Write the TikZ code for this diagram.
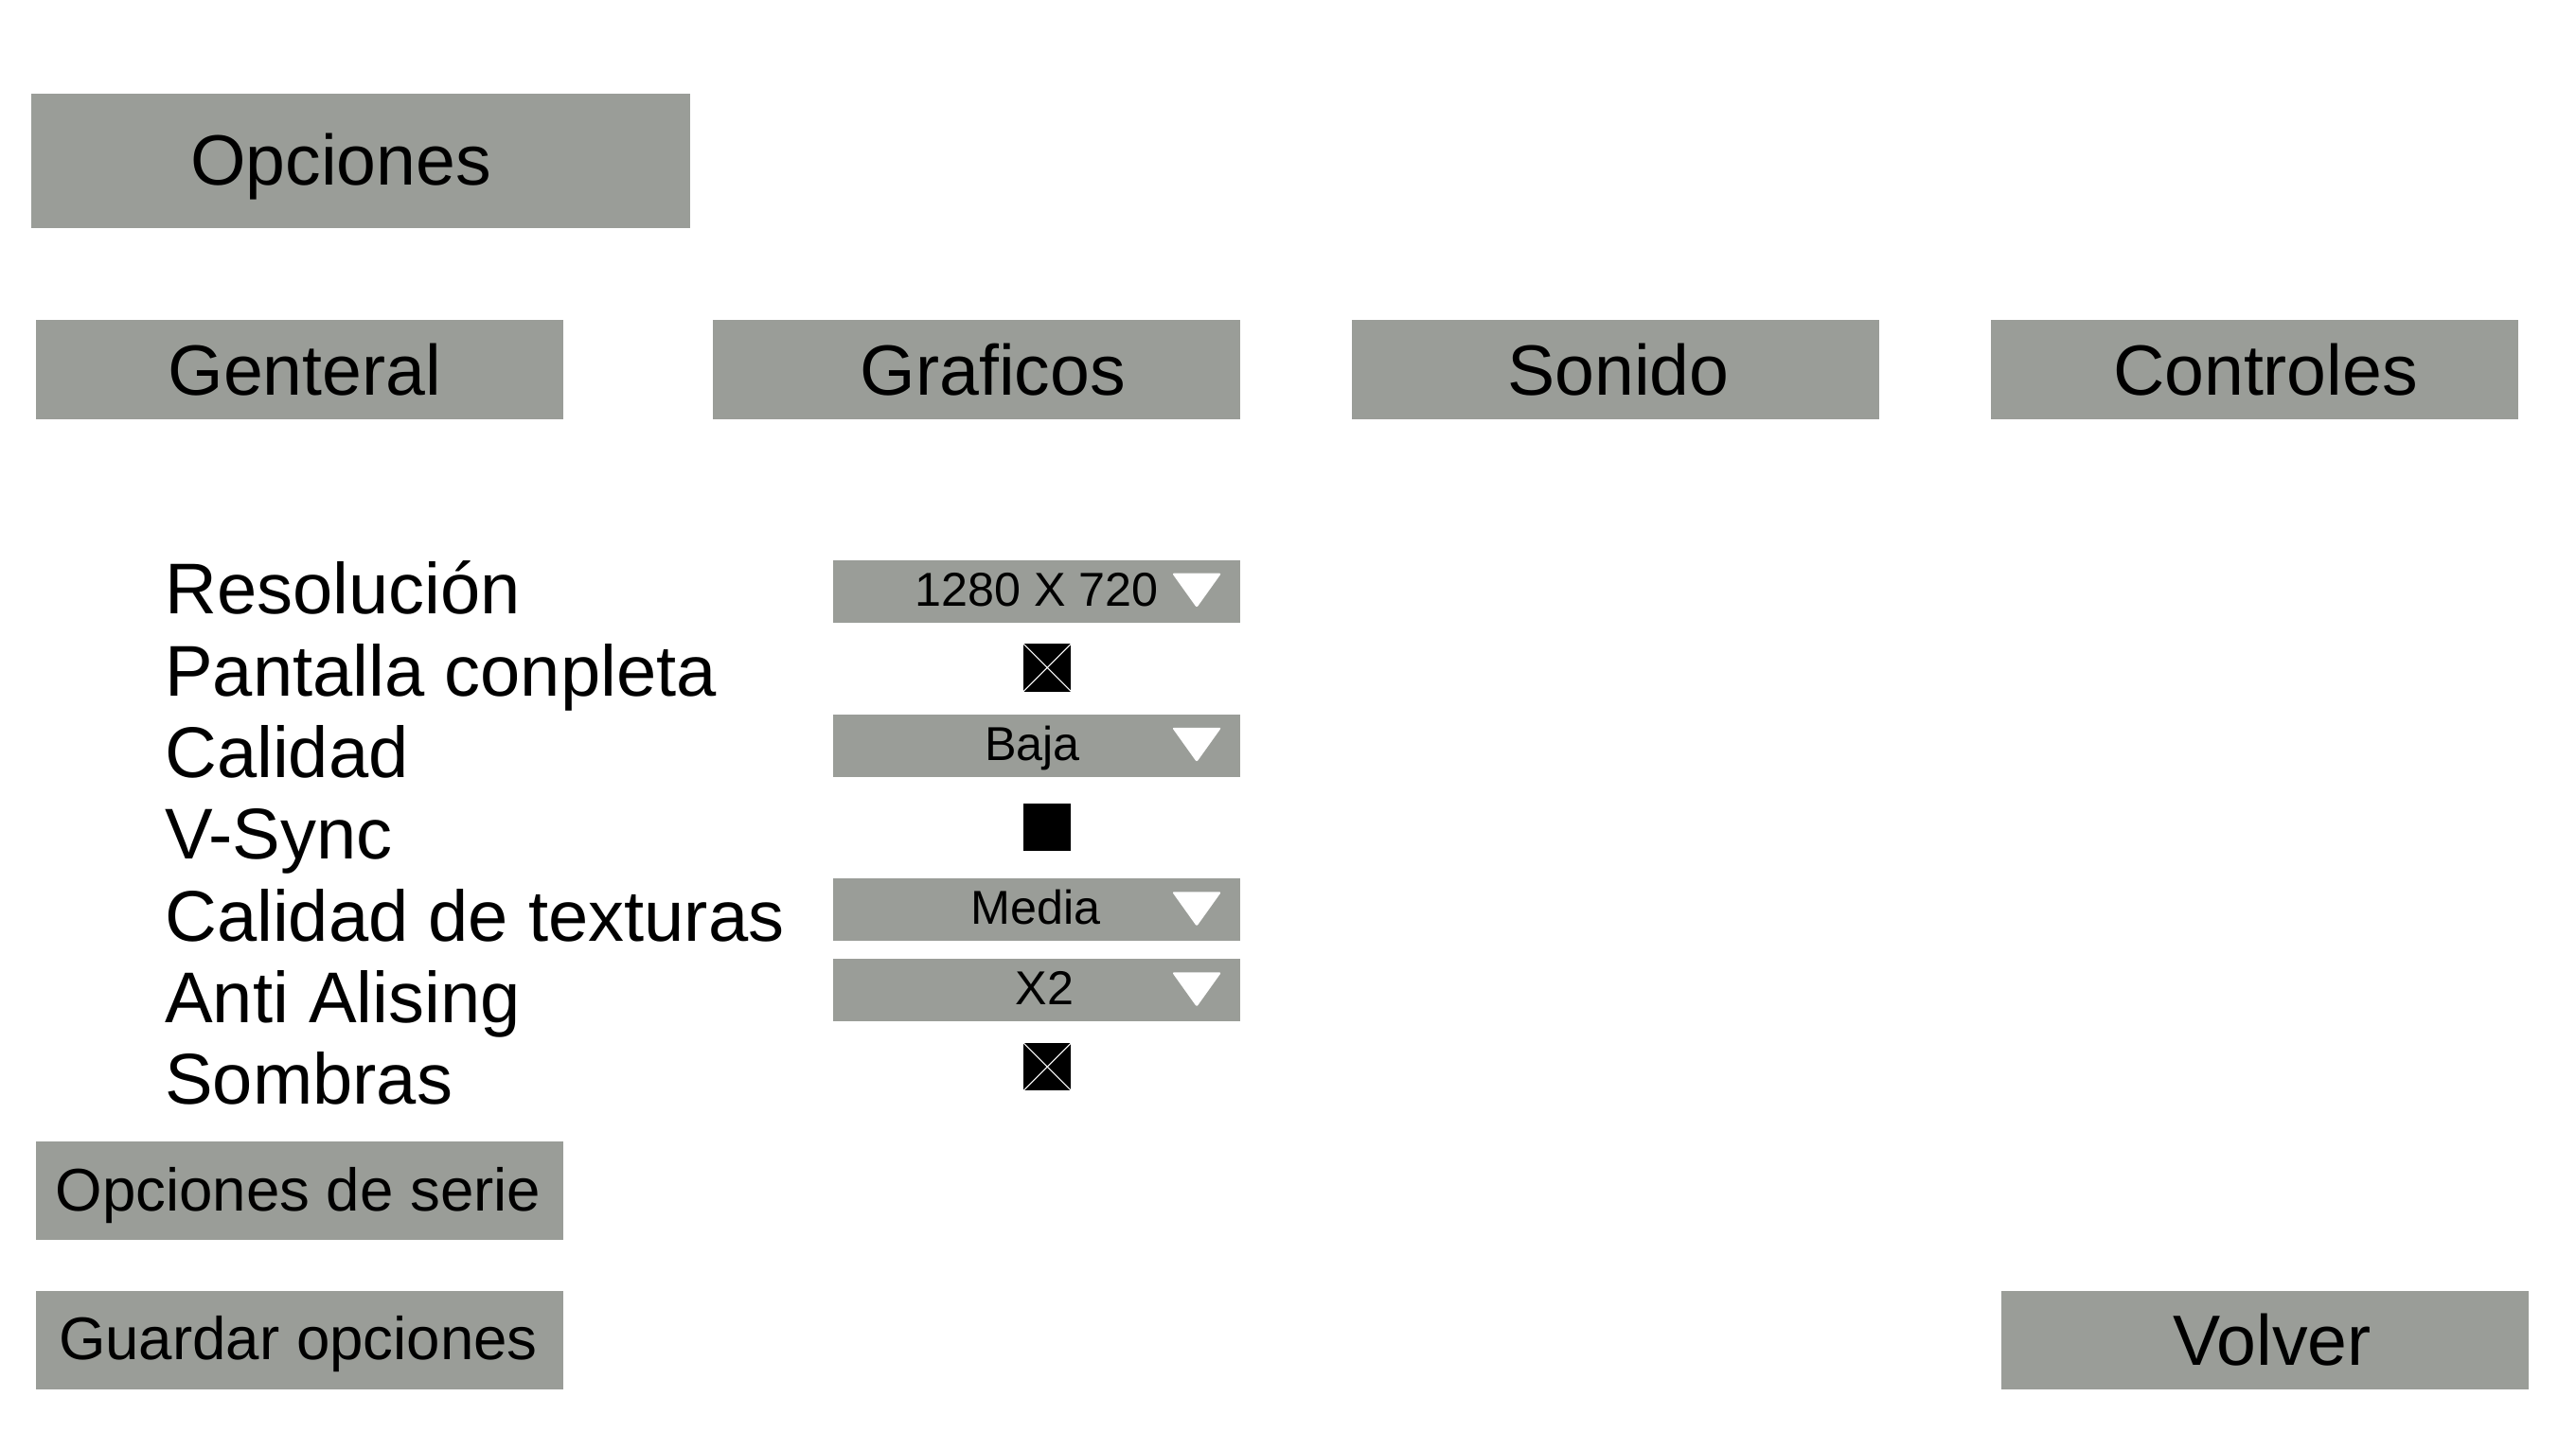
\documentclass[tikz,border=0pt]{standalone}
\usepackage{fontspec}
\setmainfont{Liberation Sans}
\usetikzlibrary{calc}
\definecolor{panelgray}{RGB}{154,157,152}

\begin{document}
\begin{tikzpicture}[x=0.017353cm, y=-0.017353cm,
    box/.style={rectangle, fill=panelgray, inner sep=0pt},
    tabbox/.style={box, minimum width=5.5703cm, minimum height=1.0412cm},
    dropbox/.style={box, minimum width=4.3035cm, minimum height=0.6594cm},
    checkbox/.style={rectangle, fill=black, inner sep=0pt, minimum size=0.5032cm},
    txt/.style={inner sep=0pt, text depth=0pt},
    big/.style={txt, text height=15.4pt, font=\fontsize{21.4}{24}\selectfont},
    item/.style={txt, text height=15.6pt, font=\fontsize{21.6}{24}\selectfont},
    mid/.style={txt, text height=13pt, font=\fontsize{18.1}{21}\selectfont},
    small/.style={txt, text height=10.3pt, font=\fontsize{14.3}{17}\selectfont}]

    \useasboundingbox (0,0) rectangle (1568,882.3);

    \node[box, minimum width=6.9586cm, minimum height=1.4229cm] (title) at (219.5,98) {};
    \node[big] (titletxt) at (207.5,97) {Opciones};

    \foreach \x/\tx/\name/\lbl in {182.5/185.5/general/Genteral, 594.5/604.5/graficos/Graficos,
                                   983.5/985/sonido/Sonido, 1372.5/1379/controles/Controles}{
        \node[tabbox] (\name) at (\x,225) {};
        \node[big] (\name txt) at (\tx,225) {\lbl};
    }

    \foreach \y/\name/\lbl in {358/res/Resolución, 407.75/full/Pantalla conpleta, 457.5/cal/Calidad,
                               507.25/vsync/V-Sync, 557/tex/Calidad de texturas,
                               606.75/aa/Anti Alising, 656.5/shadow/Sombras}
        \node[item, anchor=west] (\name) at (100,\y) {\lbl};

    \foreach \y/\tx/\name/\val in {360/631/resbox/1280 X 720, 454/628.5/calbox/Baja,
                                   554/630.5/texbox/Media, 603/636/aabox/X2}{
        \node[dropbox] (\name) at (631,\y) {};
        \node[small] (\name txt) at (\tx,\y-1.5) {\val};
        \fill[white, rounded corners=0.6pt] ($(\name.east)+(-42,-11)$) -- ($(\name.east)+(-12,-11)$)
            -- ($(\name.east)+(-27,10)$) -- cycle;
    }

    \foreach \y/\name in {406.5/fullchk, 503.5/vsyncchk, 649.5/shadowchk}
        \node[checkbox] (\name) at (637.5,\y) {};
    \draw[white, line width=0.3pt] (fullchk.north west) -- (fullchk.south east)
        (fullchk.north east) -- (fullchk.south west);
    \draw[white, line width=0.3pt] (shadowchk.north west) -- (shadowchk.south east)
        (shadowchk.north east) -- (shadowchk.south west);

    \node[tabbox] (defaults) at (182.5,725) {};
    \node[mid] (defaultstxt) at (181.5,724) {Opciones de serie};
    \node[tabbox] (save) at (182.5,816) {};
    \node[mid] (savetxt) at (181.5,814.5) {Guardar opciones};
    \node[tabbox] (back) at (1378.5,816) {};
    \node[big] (backtxt) at (1383,815.5) {Volver};
\end{tikzpicture}
\end{document}
